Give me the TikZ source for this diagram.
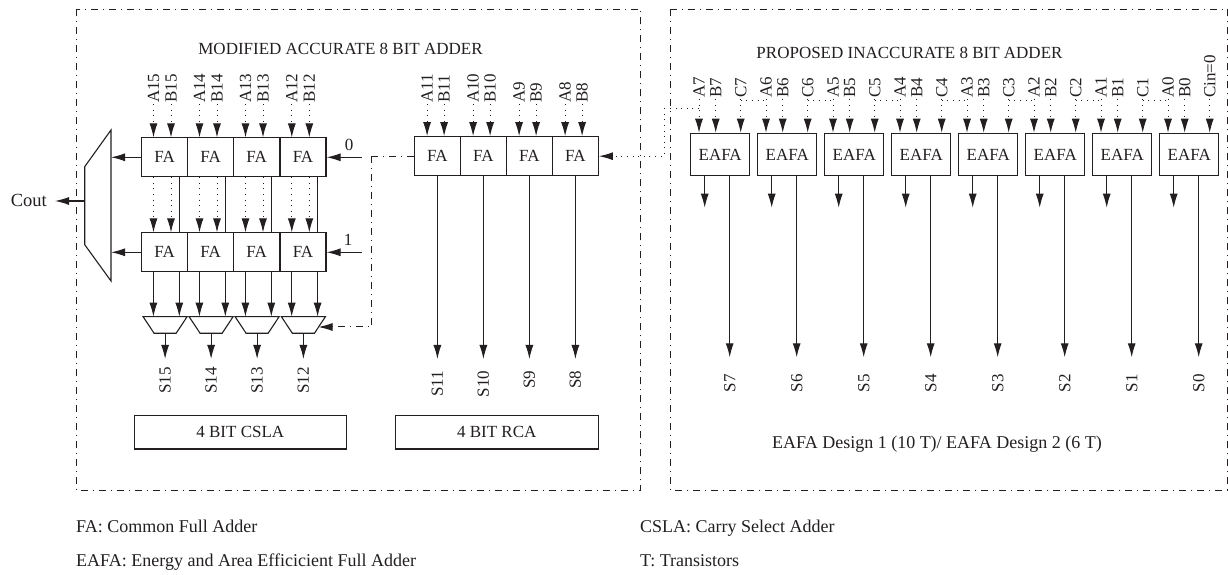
\documentclass[tikz,border=0pt]{standalone}
\usepackage{xcolor}
\usepackage{fontspec}
\setmainfont{Liberation Serif}
\usetikzlibrary{arrows.meta}
\definecolor{inkline}{HTML}{231F20}
\tikzset{
  sigtip/.style={-{Latex[length=14pt,width=8pt]}},
  sigline/.style={inkline,line width=1.1pt,sigtip},
  dotline/.style={inkline,line width=1pt,dash pattern=on 1pt off 4.6pt},
  dotsig/.style={dotline,sigtip},
  selline/.style={inkline,line width=1pt,dash pattern=on 7pt off 5pt on 1pt off 5pt},
  framebox/.style={selline,line width=0.9pt},
  cellbox/.style={draw=inkline,line width=1.1pt,inner sep=0pt,text=inkline,font=\fontsize{17}{19}\selectfont},
  muxline/.style={draw=inkline,line width=1.1pt},
  pinlabel/.style={rotate=90,anchor=west,inner sep=0pt,inner xsep=1pt,text=inkline,font=\fontsize{17}{19}\selectfont},
  sumlabel/.style={rotate=90,anchor=east,inner sep=0pt,text=inkline,font=\fontsize{17}{19}\selectfont},
  textlabel/.style={text=inkline,inner sep=0pt,font=\fontsize{18}{20}\selectfont},
  titlelabel/.style={text=inkline,inner sep=0pt,font=\fontsize{17}{19}\selectfont}
}
\begin{document}
\begin{tikzpicture}[x=1pt,y=1pt]
  \useasboundingbox (0,0) rectangle (1228,575);
  \fill[white] (0,0) rectangle (1228,575);

  \draw[framebox] (76,566) rectangle (640.5,84.5);
  \draw[framebox] (670.5,566) rectangle (1227,84.5);

  \node[titlelabel] (acctitle) at (340.5,526) {MODIFIED ACCURATE 8 BIT ADDER};
  \node[titlelabel] (inacctitle) at (909.5,522) {PROPOSED INACCURATE 8 BIT ADDER};

  % carry select part
  \foreach \n/\x in {15/164.7,14/210.7,13/256.7,12/303} {
    \node[cellbox,minimum width=46pt,minimum height=38.7pt] (fa\n) at (\x,417.7) {FA};
    \node[cellbox,minimum width=46pt,minimum height=38.7pt] (fb\n) at (\x,322.7) {FA};
    \coordinate (mxt\n) at (\x+0.4,258.3);
    \coordinate (mxb\n) at (\x+0.4,241.7);
    \draw[muxline] (\x-21.6,258.3) -- (\x+22.4,258.3) -- (\x+11.4,241.7) -- (\x-10.6,241.7) -- cycle;
    \node[pinlabel] (la\n) at (\x-11.2,471) {A\n};
    \node[pinlabel] (lb\n) at (\x+6.3,471) {B\n};
    \node[sumlabel,inner xsep=8pt] (s\n) at (\x+0.4,216) {S\n};
    \draw[dotsig] (la\n.west) -- (la\n.west |- fa\n.north);
    \draw[dotsig] (lb\n.west) -- (lb\n.west |- fa\n.north);
    \draw[dotsig] (la\n.west |- fa\n.south) -- (la\n.west |- fb\n.north);
    \draw[dotsig] (lb\n.west |- fa\n.south) -- (lb\n.west |- fb\n.north);
    \draw[inkline,line width=1.1pt] ([xshift=14.6pt]fa\n.south) -- ([xshift=14.6pt]fb\n.north);
    \draw[sigline] ([xshift=-11.3pt]fb\n.south) -- ([xshift=-11.3pt]fb\n.south |- mxt\n);
    \draw[sigline] ([xshift=14.6pt]fb\n.south) -- ([xshift=14.6pt]fb\n.south |- mxt\n);
    \draw[sigline] (mxb\n) -- (s\n.east);
  }

  \coordinate (muxtr) at (111,445);
  \coordinate (muxout) at (84.7,374);
  \draw[muxline] (muxtr) -- (84.7,408.3) -- (84.7,330.3) -- (111,294) -- cycle;
  \draw[sigline] (fa15.west) -- (fa15.west -| muxtr);
  \draw[sigline] (fb15.west) -- (fb15.west -| muxtr);
  \node[textlabel,anchor=east,inner xsep=8pt,font=\fontsize{18.5}{20}\selectfont] (cout) at (55,375) {Cout};
  \draw[sigline] (muxout) -- (cout.east |- muxout);

  \coordinate (zeroin) at (361.7,417.7);
  \coordinate (onein) at (361.7,322.7);
  \draw[sigline] (zeroin) -- (fa12.east);
  \draw[sigline] (onein) -- (fb12.east);
  \node[titlelabel] (zerolab) at (349,430) {0};
  \node[titlelabel] (onelab) at (348,335) {1};

  \node[cellbox,minimum width=211.5pt,minimum height=33.5pt] (cslabox) at (240.3,142.7) {4 BIT CSLA};
  \node[cellbox,minimum width=203pt,minimum height=33.5pt] (rcabox) at (496.7,142.7) {4 BIT RCA};

  % ripple carry part
  \foreach \n/\x/\g in {11/437.4/11.7,10/483.4/11.7,9/529.4/11.7,8/575.4/11.7} {
    \node[cellbox,minimum width=46pt,minimum height=39pt] (fr\n) at (\x,418.8) {FA};
    \node[pinlabel] (la\n) at (\x-10.3,471) {A\n};
    \node[pinlabel] (lb\n) at (\x+6.7,471) {B\n};
    \node[sumlabel,inner xsep=\g pt] (s\n) at (\x,216) {S\n};
    \draw[dotsig] (la\n.west) -- (la\n.west |- fr\n.north);
    \draw[dotsig] (lb\n.west) -- (lb\n.west |- fr\n.north);
    \draw[sigline] (fr\n.south) -- (s\n.east);
  }

  \coordinate (selturn) at (371.7,418.8);
  \coordinate (selend) at (318.5,248);
  \draw[selline] (fr11.west) -- (selturn);
  \draw[selline,sigtip] (selturn) |- (selend);

  % inexact part
  \foreach \n/\x in {7/720.2,6/787.2,5/854.2,4/921.2,3/988.2,2/1055.2,1/1122.2,0/1189.2} {
    \node[cellbox,minimum width=59pt,minimum height=42.4pt] (ea\n) at (\x,420.5) {EAFA};
    \node[pinlabel] (la\n) at (\x-21.2,476) {A\n};
    \node[pinlabel] (lb\n) at (\x-4.5,476) {B\n};
    \coordinate (cy\n) at (\x+20.5,476);
    \coordinate (qa\n) at (\x-15.5,367.3);
    \node[sumlabel,inner xsep=16.7pt] (s\n) at (\x+9.5,217.7) {S\n};
    \draw[dotsig] (la\n.west) -- (la\n.west |- ea\n.north);
    \draw[dotsig] (lb\n.west) -- (lb\n.west |- ea\n.north);
    \draw[dotsig] (cy\n) -- (cy\n |- ea\n.north);
    \draw[sigline] (qa\n |- ea\n.south) -- (qa\n);
    \draw[sigline] (s\n.east |- ea\n.south) -- (s\n.east);
  }
  \foreach \n in {7,6,5,4,3,2,1} {
    \node[pinlabel] (lc\n) at (cy\n) {C\n};
  }
  \node[pinlabel] (lc0) at (cy0) {Cin=0};
  \foreach \n/\m in {7/6,6/5,5/4,4/3,3/2,2/1,1/0} {
    \draw[dotline] ([yshift=-2pt]cy\n) -- ([yshift=-2pt]cy\n -| la\m.west);
  }

  \coordinate (cytap) at (664,466.7);
  \draw[dotline] (la7.west |- cytap) -- (cytap);
  \draw[dotsig] (cytap) |- (fr8.east);

  \node[textlabel,anchor=base] (designnote) at (937,126) {EAFA Design 1 (10 T)/ EAFA Design 2 (6 T)};

  \node[textlabel,anchor=base west] (notefa) at (76,42) {FA: Common Full Adder};
  \node[textlabel,anchor=base west] (noteeafa) at (76,8) {EAFA: Energy and Area Efficicient Full Adder};
  \node[textlabel,anchor=base west] (notecsla) at (640,42) {CSLA: Carry Select Adder};
  \node[textlabel,anchor=base west] (notet) at (640,8) {T: Transistors};
\end{tikzpicture}
\end{document}
